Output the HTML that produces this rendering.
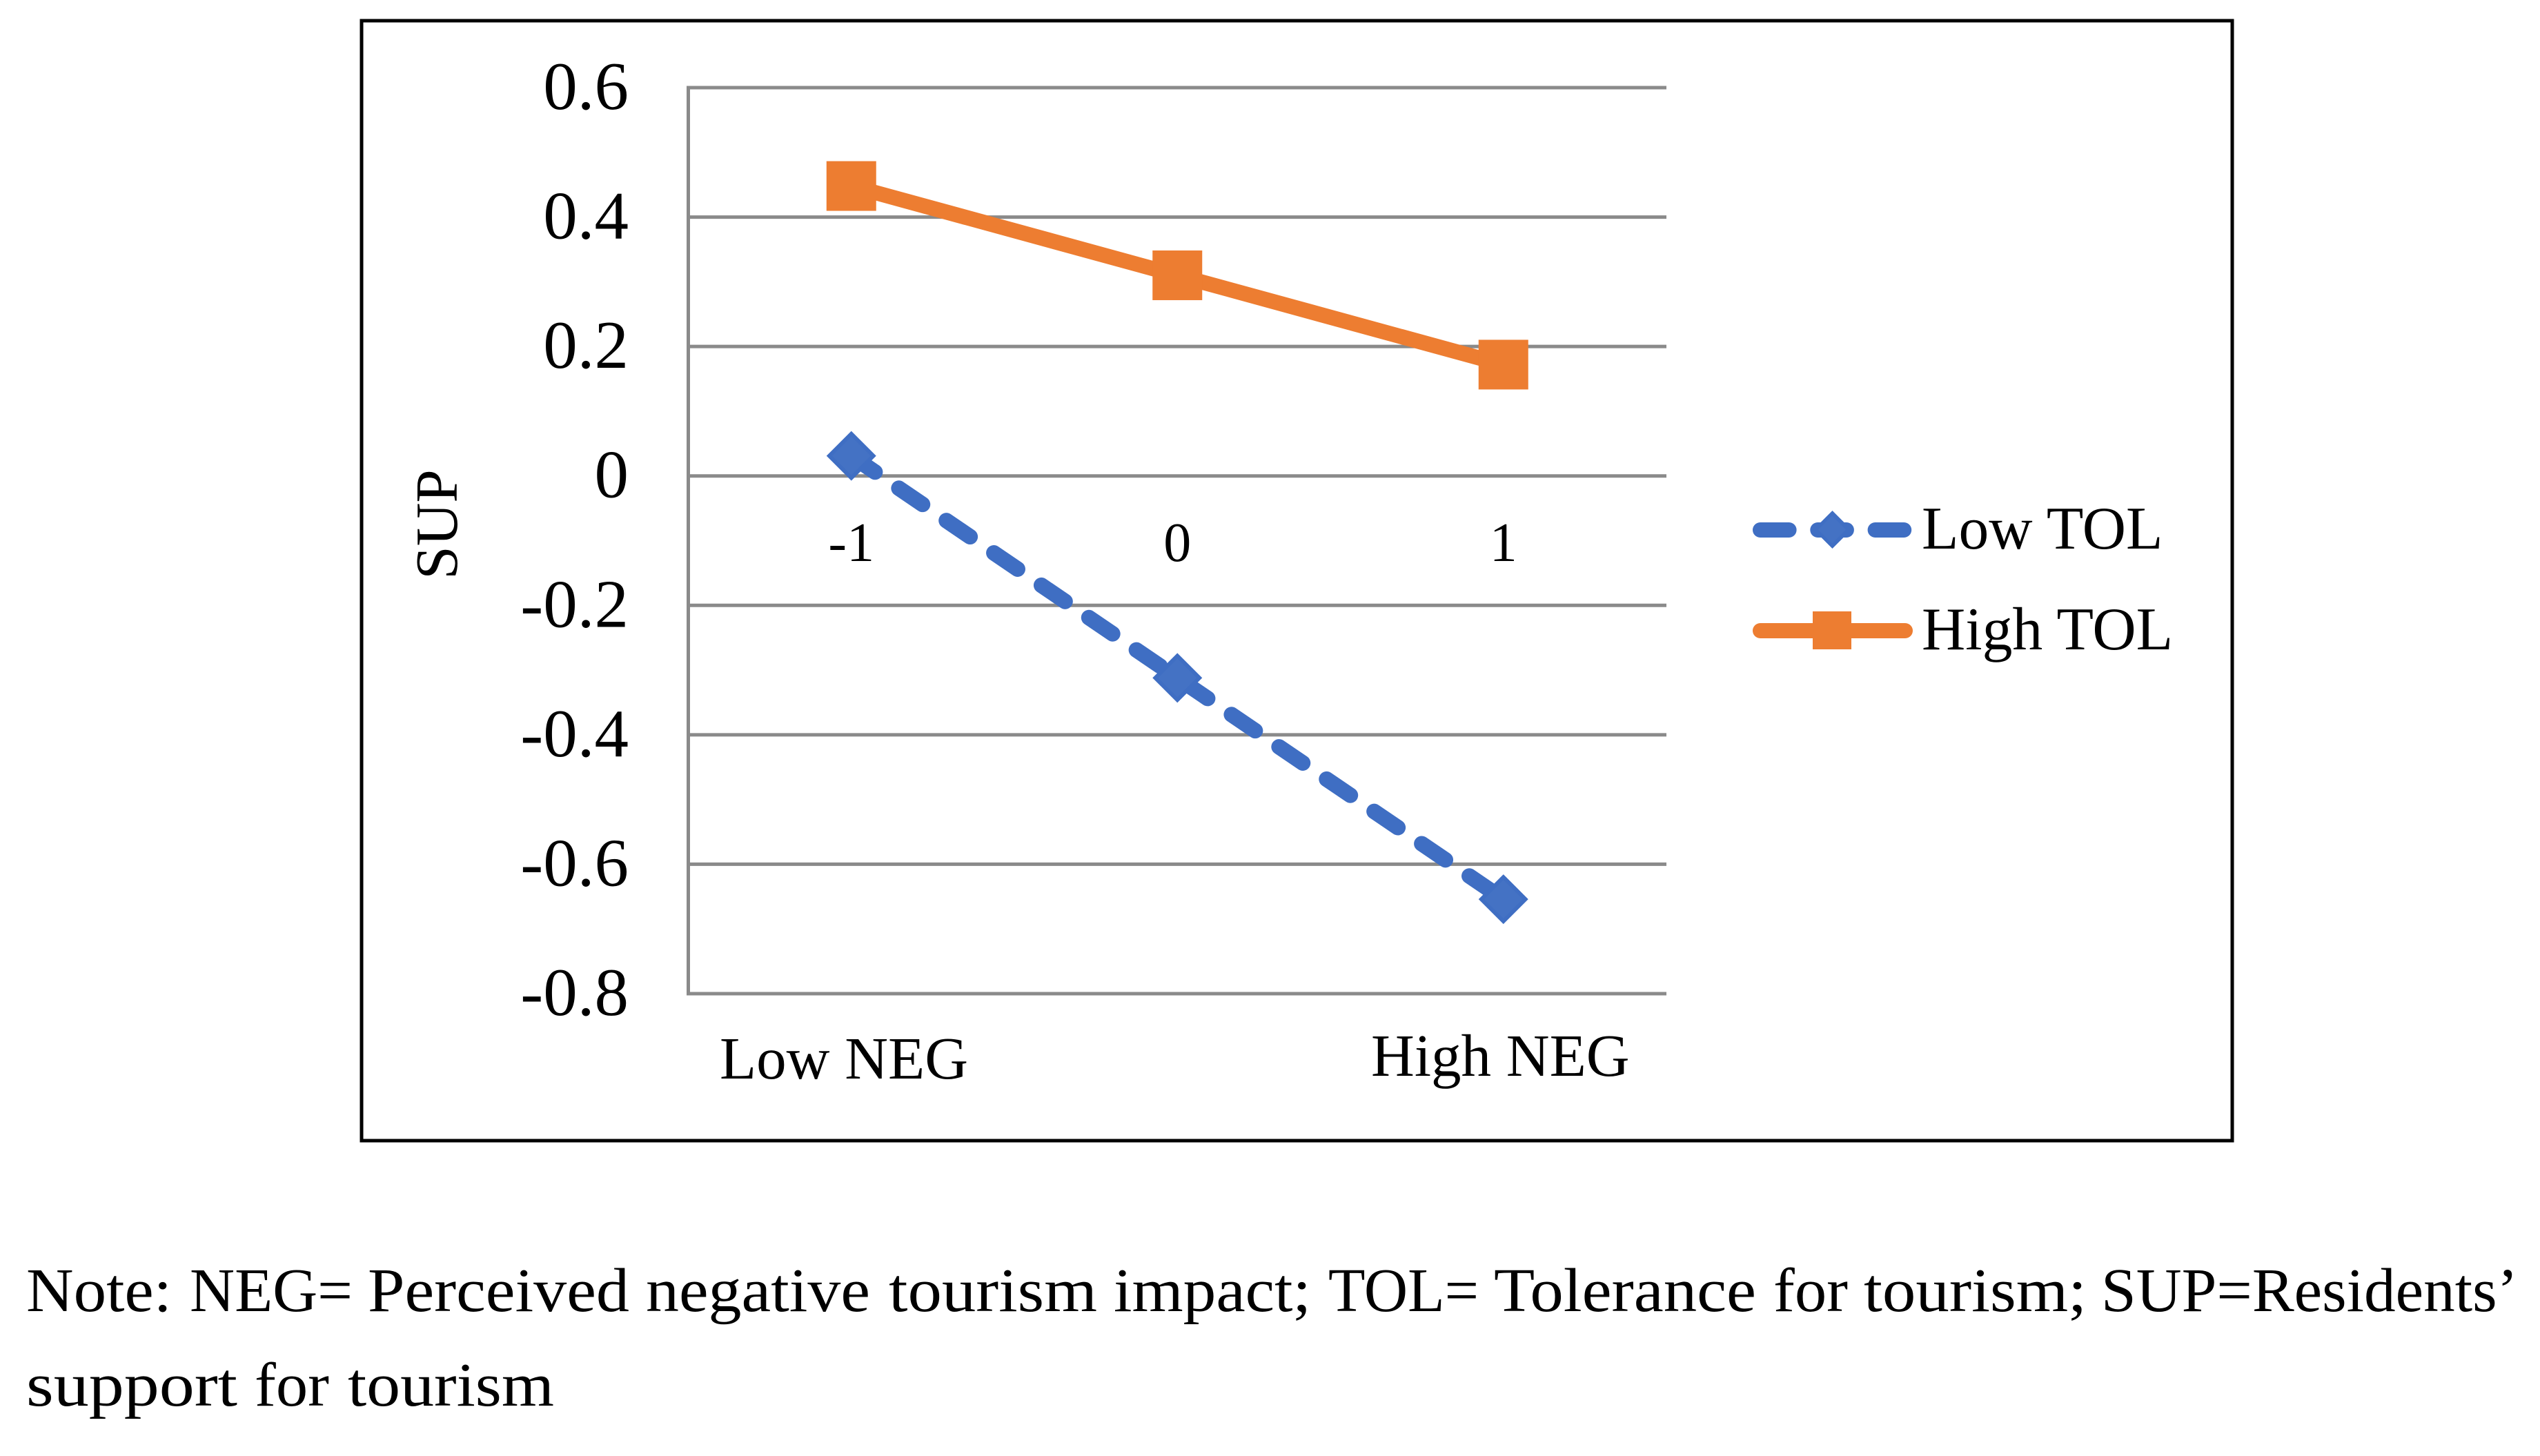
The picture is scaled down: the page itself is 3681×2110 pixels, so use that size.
<!DOCTYPE html>
<html lang="en">
<head>
<meta charset="utf-8">
<title>SUP by NEG and TOL</title>
<style>
html,body{margin:0;padding:0;background:#fff;}
svg{display:block;}
text{font-family:"Liberation Serif",serif;fill:#000;}
.note{font-size:90px;}
</style>
</head>
<body>
<svg id="chart" xmlns="http://www.w3.org/2000/svg" width="3681" height="2110" viewBox="0 0 3681 2110">
<rect x="0" y="0" width="3681" height="2110" fill="#fff"/>
<rect x="524" y="30" width="2711" height="1623" fill="#fff" stroke="#000" stroke-width="5"/>
<g id="grid"></g>
<g id="yticks"></g>
<g id="xticks"></g>
<text transform="translate(662,760) rotate(-90)" text-anchor="middle" font-size="87">SUP</text>
<text x="1043" y="1563" font-size="87">Low NEG</text>
<text x="1987" y="1559" font-size="87">High NEG</text>
<g id="series"></g>
<g>
  <g>
    <line x1="2551" y1="768" x2="2760" y2="768" stroke="#3F6EC3" stroke-width="22" stroke-linecap="round" stroke-dasharray="41.6 41.7"/>
    <polygon points="2655.5,740 2683,767.5 2655.5,795 2628,767.5" fill="#3F6EC3"/>
    <polygon points="2655,747.5 2675,767.5 2655,787.5 2635,767.5" fill="#4472C4"/>
    <text x="2785" y="795" font-size="87.6">Low TOL</text>
  </g>
  <g>
    <line x1="2551" y1="914" x2="2761" y2="914" stroke="#ED7D31" stroke-width="22" stroke-linecap="round"/>
    <rect x="2627" y="886" width="56" height="55" fill="#ED7D31"/>
    <text x="2785" y="941" font-size="87.6">High TOL</text>
  </g>
</g>
<g class="note">
  <text x="38" y="1900" textLength="211" lengthAdjust="spacingAndGlyphs">Note:</text>
  <text x="275" y="1900" textLength="236" lengthAdjust="spacingAndGlyphs">NEG=</text>
  <text x="533" y="1900" textLength="379" lengthAdjust="spacingAndGlyphs">Perceived</text>
  <text x="936" y="1900" textLength="325" lengthAdjust="spacingAndGlyphs">negative</text>
  <text x="1288" y="1900" textLength="302" lengthAdjust="spacingAndGlyphs">tourism</text>
  <text x="1614" y="1900" textLength="286" lengthAdjust="spacingAndGlyphs">impact;</text>
  <text x="1925" y="1900" textLength="218" lengthAdjust="spacingAndGlyphs">TOL=</text>
  <text x="2165" y="1900" textLength="380" lengthAdjust="spacingAndGlyphs">Tolerance</text>
  <text x="2570" y="1900" textLength="108" lengthAdjust="spacingAndGlyphs">for</text>
  <text x="2701" y="1900" textLength="323" lengthAdjust="spacingAndGlyphs">tourism;</text>
  <text x="3045" y="1900" textLength="604" lengthAdjust="spacingAndGlyphs">SUP=Residents’</text>
  <text x="38" y="2037" textLength="306" lengthAdjust="spacingAndGlyphs">support</text>
  <text x="369" y="2037" textLength="108" lengthAdjust="spacingAndGlyphs">for</text>
  <text x="504" y="2037" textLength="299" lengthAdjust="spacingAndGlyphs">tourism</text>
</g>
</svg>
<script>
const categories = ["-1", "0", "1"];
const yTickValues = [0.6, 0.4, 0.2, 0, -0.2, -0.4, -0.6, -0.8];
const yTickLabels = ["0.6", "0.4", "0.2", "0", "-0.2", "-0.4", "-0.6", "-0.8"];
const lowTolValues = [0.031, -0.312, -0.654];
const highTolValues = [0.448, 0.31, 0.172];

const NS = "http://www.w3.org/2000/svg";
const plotLeft = 997.5, plotRight = 2415, plotTop = 127, plotBottom = 1440;
const yMax = 0.6, yMin = -0.8;

function xScale(i) {
  return plotLeft + (i + 0.5) * (plotRight - plotLeft) / categories.length;
}
function yScale(v) {
  return plotTop + (yMax - v) * (plotBottom - plotTop) / (yMax - yMin);
}
function make(tag, attrs, parent) {
  const el = document.createElementNS(NS, tag);
  for (const k in attrs) el.setAttribute(k, attrs[k]);
  parent.appendChild(el);
  return el;
}
function diamond(cx, cy, r) {
  return cx + "," + (cy - r) + " " + (cx + r) + "," + cy + " " + cx + "," + (cy + r) + " " + (cx - r) + "," + cy;
}

const gridG = document.getElementById("grid");
const yG = document.getElementById("yticks");
const xG = document.getElementById("xticks");
const seriesG = document.getElementById("series");

yTickValues.forEach(function (v, i) {
  const line = make("line", {x1: plotLeft, x2: plotRight, y1: yScale(v), y2: yScale(v), stroke: "#8A8A8A", "stroke-width": 5}, gridG);
  
  
  const label = make("text", {x: 911, y: yScale(v) + 31, "text-anchor": "end", "font-size": 99}, yG);
  label.textContent = yTickLabels[i];
  
  
});

const yAxis = make("line", {x1: plotLeft, x2: plotLeft, y1: yScale(yMax) - 2.5, y2: yScale(yMin) + 2.5, stroke: "#8A8A8A", "stroke-width": 5}, gridG);



categories.forEach(function (c, i) {
  const label = make("text", {x: xScale(i), y: 813, "text-anchor": "middle", "font-size": 80}, xG);
  label.textContent = c;
  
  
});

const lowLine = make("polyline", {
  points: lowTolValues.map(function (v, i) { return xScale(i) + "," + yScale(v); }).join(" "),
  fill: "none", stroke: "#3F6EC3", "stroke-width": 22.5, "stroke-linecap": "round", "stroke-linejoin": "round", "stroke-dasharray": "41.6 41.7"
}, seriesG);



const highLine = make("polyline", {
  points: highTolValues.map(function (v, i) { return xScale(i) + "," + yScale(v); }).join(" "),
  fill: "none", stroke: "#ED7D31", "stroke-width": 22, "stroke-linecap": "round", "stroke-linejoin": "round"
}, seriesG);



lowTolValues.forEach(function (v, i) {
  const outer = make("polygon", {points: diamond(xScale(i), yScale(v), 36), fill: "#3F6EC3"}, seriesG);
  
  
  const inner = make("polygon", {points: diamond(xScale(i), yScale(v), 28), fill: "#4472C4"}, seriesG);
  
  
});

highTolValues.forEach(function (v, i) {
  const m = make("rect", {x: xScale(i) - 36, y: yScale(v) - 36, width: 72, height: 72, fill: "#ED7D31"}, seriesG);
  
  
});
</script>
</body>
</html>
